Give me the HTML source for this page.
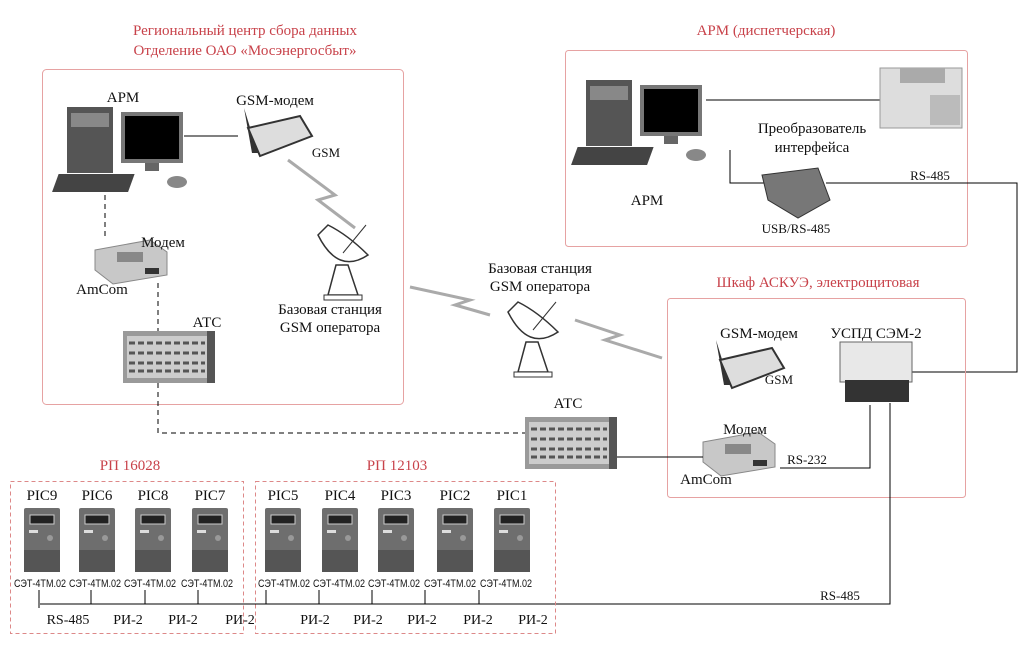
<!DOCTYPE html>
<html><head><meta charset="utf-8"><style>
body{margin:0;background:#fff}
svg{display:block}
text{font-family:"Liberation Serif","Noto Serif CJK SC",serif;font-size:15px;fill:#111}
.r{fill:#c8424a}
.s{font-size:11px;font-family:"Liberation Sans","Noto Sans CJK SC",sans-serif}
</style></head><body>
<svg width="1031" height="645" viewBox="0 0 1031 645">
<defs>
<g id="meter"><rect x="-18" y="0" width="36" height="64" rx="2" fill="#6e6e6e"/><rect x="-18" y="42" width="36" height="22" fill="#555"/><rect x="-12" y="7" width="24" height="9" fill="#222" stroke="#ccc"/><rect x="-13" y="22" width="9" height="3" fill="#ddd"/><circle cx="8" cy="30" r="3" fill="#999"/></g>
<g id="pc"><rect x="0" y="0" width="46" height="66" fill="#555"/><rect x="4" y="6" width="38" height="14" fill="#888"/><rect x="54" y="5" width="62" height="51" fill="#777"/><rect x="58" y="9" width="54" height="43" fill="#000"/><rect x="78" y="56" width="14" height="8" fill="#666"/><rect x="16" y="67" width="76" height="18" fill="#444" transform="skewX(-20)"/><ellipse cx="110" cy="75" rx="10" ry="6" fill="#888"/></g>
<g id="atc"><rect x="0" y="0" width="92" height="52" fill="#9a9a9a"/><rect x="4" y="5" width="80" height="42" fill="#ccc"/><path d="M6 12h76M6 22h76M6 32h76M6 40h76" stroke="#555" stroke-width="3" stroke-dasharray="6 3"/><rect x="84" y="0" width="8" height="52" fill="#555"/></g>
<g id="modem"><path d="M0 10L55 0L72 12L72 35L18 44L0 30Z" fill="#c8c8c8" stroke="#888"/><rect x="22" y="12" width="26" height="10" fill="#888"/><rect x="50" y="28" width="14" height="6" fill="#333"/></g>
<g id="gsm"><path d="M6 0L14 45L20 45Z" fill="#333"/><path d="M10 20L62 8L74 28L22 48Z" fill="#ddd" stroke="#333" stroke-width="2"/></g>
<g id="dish"><path d="M0 10Q20 50 50 30Q30 10 10 0Z" fill="#fff" stroke="#333" stroke-width="1.5"/><line x1="25" y1="28" x2="48" y2="0" stroke="#333"/><path d="M18 40L10 70L40 70L30 40Z" fill="#fff" stroke="#333" stroke-width="1.5"/><rect x="6" y="70" width="38" height="5" fill="#fff" stroke="#333"/></g>
</defs>
<text x="245" y="35" text-anchor="middle" class="r">Региональный центр сбора данных</text>
<text x="245" y="55" text-anchor="middle" class="r">Отделение ОАО «Мосэнергосбыт»</text>
<rect x="42.5" y="69.5" width="361" height="335" rx="4" fill="none" stroke="#e6a2a2"/>
<use href="#pc" x="67" y="107"/>
<text x="123" y="102" text-anchor="middle">АРМ</text>
<line x1="184" y1="136" x2="238" y2="136" stroke="#000"/>
<use href="#gsm" x="238" y="108"/>
<text x="275" y="105" text-anchor="middle">GSM-модем</text>
<text x="326" y="157" text-anchor="middle" style="font-size:13px">GSM</text>
<path d="M288 160L335 195L318 200L355 228" fill="none" stroke="#aaa" stroke-width="3"/>
<use href="#dish" x="318" y="225"/>
<text x="330" y="314" text-anchor="middle">Базовая станция</text>
<text x="330" y="332" text-anchor="middle">GSM оператора</text>
<use href="#modem" x="95" y="240"/>
<text x="163" y="247" text-anchor="middle">Модем</text>
<text x="102" y="294" text-anchor="middle">AmCom</text>
<use href="#atc" x="123" y="331"/>
<text x="207" y="327" text-anchor="middle">АТС</text>
<path d="M105 195V240M158 283V331M158 383V433H525" fill="none" stroke="#000" stroke-dasharray="5 4"/>

<text x="766" y="35" text-anchor="middle" class="r">АРМ (диспетчерская)</text>
<rect x="565.5" y="50.5" width="402" height="196" rx="3" fill="none" stroke="#e6a2a2"/>
<use href="#pc" x="586" y="80"/>
<line x1="706" y1="100" x2="880" y2="100" stroke="#000"/>
<rect x="880" y="68" width="82" height="60" fill="#ddd" stroke="#999"/><rect x="900" y="68" width="45" height="15" fill="#aaa"/><rect x="930" y="95" width="30" height="30" fill="#bbb"/>
<text x="812" y="133" text-anchor="middle">Преобразователь</text>
<text x="812" y="152" text-anchor="middle">интерфейса</text>
<path d="M730 150V183H768" fill="none" stroke="#000"/>
<path d="M762 175L818 168L830 200L798 218L768 200Z" fill="#777" stroke="#333"/>
<text x="796" y="233" text-anchor="middle" style="font-size:13px">USB/RS-485</text>
<text x="647" y="205" text-anchor="middle">АРМ</text>
<path d="M826 183H1017V372H912" fill="none" stroke="#000"/>
<text x="930" y="180" text-anchor="middle" style="font-size:13px">RS-485</text>

<text x="540" y="273" text-anchor="middle">Базовая станция</text>
<text x="540" y="291" text-anchor="middle">GSM оператора</text>
<path d="M410 287L470 300L455 305L490 315" fill="none" stroke="#aaa" stroke-width="3"/>
<path d="M575 320L620 335L605 340L662 358" fill="none" stroke="#aaa" stroke-width="3"/>
<use href="#dish" x="508" y="302"/>

<text x="818" y="287" text-anchor="middle" class="r">Шкаф АСКУЭ, электрощитовая</text>
<rect x="667.5" y="298.5" width="298" height="199" rx="3" fill="none" stroke="#e6a2a2"/>
<use href="#gsm" x="710" y="340"/>
<text x="759" y="338" text-anchor="middle">GSM-модем</text>
<text x="779" y="384" text-anchor="middle" style="font-size:13px">GSM</text>
<text x="876" y="338" text-anchor="middle">УСПД СЭМ-2</text>
<rect x="840" y="342" width="72" height="40" fill="#e8e8e8" stroke="#666"/><rect x="845" y="380" width="64" height="22" fill="#333"/>
<use href="#modem" x="703" y="432"/>
<text x="745" y="434" text-anchor="middle">Модем</text>
<text x="706" y="484" text-anchor="middle">AmCom</text>
<text x="807" y="464" text-anchor="middle" style="font-size:13px">RS-232</text>
<path d="M780 468H870V405" fill="none" stroke="#000"/>
<use href="#atc" x="525" y="417"/>
<text x="568" y="408" text-anchor="middle">АТС</text>
<line x1="617" y1="457" x2="703" y2="457" stroke="#000"/>
<path d="M890 403V604H40" fill="none" stroke="#000"/>
<text x="840" y="600" text-anchor="middle" style="font-size:13px">RS-485</text>

<text x="130" y="470" text-anchor="middle" class="r">РП 16028</text>
<text x="397" y="470" text-anchor="middle" class="r">РП 12103</text>
<rect x="10.5" y="481.5" width="233" height="152" fill="none" stroke="#d88" stroke-dasharray="4 3"/>
<rect x="255.5" y="481.5" width="300" height="152" fill="none" stroke="#d88" stroke-dasharray="4 3"/>
<g text-anchor="middle">
<text x="42" y="500">PIC9</text><text x="97" y="500">PIC6</text><text x="153" y="500">PIC8</text><text x="210" y="500">PIC7</text>
<text x="283" y="500">PIC5</text><text x="340" y="500">PIC4</text><text x="396" y="500">PIC3</text><text x="455" y="500">PIC2</text><text x="512" y="500">PIC1</text>
</g>
<g>
<text class="s" x="14" y="587" textLength="52" lengthAdjust="spacingAndGlyphs">СЭТ-4ТМ.02</text>
<text class="s" x="69" y="587" textLength="52" lengthAdjust="spacingAndGlyphs">СЭТ-4ТМ.02</text>
<text class="s" x="124" y="587" textLength="52" lengthAdjust="spacingAndGlyphs">СЭТ-4ТМ.02</text>
<text class="s" x="181" y="587" textLength="52" lengthAdjust="spacingAndGlyphs">СЭТ-4ТМ.02</text>
<text class="s" x="258" y="587" textLength="52" lengthAdjust="spacingAndGlyphs">СЭТ-4ТМ.02</text>
<text class="s" x="313" y="587" textLength="52" lengthAdjust="spacingAndGlyphs">СЭТ-4ТМ.02</text>
<text class="s" x="368" y="587" textLength="52" lengthAdjust="spacingAndGlyphs">СЭТ-4ТМ.02</text>
<text class="s" x="424" y="587" textLength="52" lengthAdjust="spacingAndGlyphs">СЭТ-4ТМ.02</text>
<text class="s" x="480" y="587" textLength="52" lengthAdjust="spacingAndGlyphs">СЭТ-4ТМ.02</text>
</g>
<g text-anchor="middle">
<text x="68" y="624" style="font-size:14px">RS-485</text><text x="128" y="624" style="font-size:14px">РИ-2</text><text x="183" y="624" style="font-size:14px">РИ-2</text><text x="240" y="624" style="font-size:14px">РИ-2</text>
<text x="315" y="624" style="font-size:14px">РИ-2</text><text x="368" y="624" style="font-size:14px">РИ-2</text><text x="422" y="624" style="font-size:14px">РИ-2</text><text x="478" y="624" style="font-size:14px">РИ-2</text><text x="533" y="624" style="font-size:14px">РИ-2</text>
</g>
<use href="#meter" x="42" y="508"/><use href="#meter" x="97" y="508"/><use href="#meter" x="153" y="508"/><use href="#meter" x="210" y="508"/>
<use href="#meter" x="283" y="508"/><use href="#meter" x="340" y="508"/><use href="#meter" x="396" y="508"/><use href="#meter" x="455" y="508"/><use href="#meter" x="512" y="508"/>
<path d="M39 590V608M91 590V604M145 590V604M198 590V604M266 590V604M319 590V604M372 590V604M425 590V604M479 590V604" stroke="#000"/>
</svg>
</body></html>
